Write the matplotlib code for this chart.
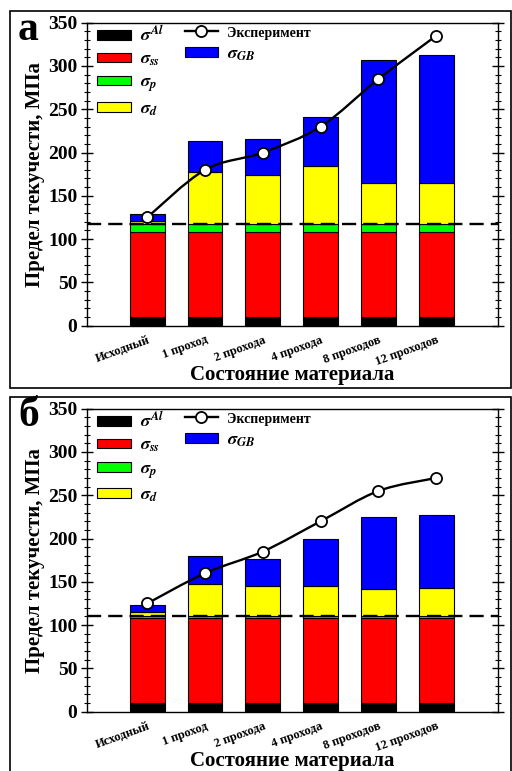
import numpy as np
import matplotlib.pyplot as plt
from matplotlib.patches import Rectangle, Patch
from matplotlib.lines import Line2D
from matplotlib.path import Path
from matplotlib.patches import PathPatch
from matplotlib.ticker import MultipleLocator

plt.rcParams['font.family'] = ['Liberation Serif', 'DejaVu Serif']
plt.rcParams['font.weight'] = 'bold'
plt.rcParams['axes.labelweight'] = 'bold'
plt.rcParams['mathtext.fontset'] = 'stix'

categories = ["Исходный", "1 проход", "2 прохода", "4 прохода", "8 проходов", "12 проходов"]

# panel а: strengthening contributions, MPa
al_a = [10, 10, 10, 10, 10, 10]
ss_a = [98, 98, 98, 98, 98, 98]
p_a = [9, 9, 9, 9, 9, 9]
d_a = [4, 61, 57, 67, 48, 48]
gb_a = [8, 35, 42, 57, 142, 148]
exp_a = [125, 180, 200, 230, 285, 335]
base_a = 117

# panel б
al_b = [10, 10, 10, 10, 10, 10]
ss_b = [98, 98, 98, 98, 98, 98]
p_b = [3, 3, 3, 3, 3, 3]
d_b = [4, 37, 34, 34, 31, 32]
gb_b = [8, 32, 31, 55, 83, 84]
exp_b = [125, 160, 185, 220, 255, 270]
base_b = 111

colors = ['black', '#ff0000', '#00ff00', '#ffff00', '#0000ff']
names = [r'$\sigma^{Al}$', r'$\sigma_{ss}$', r'$\sigma_{p}$', r'$\sigma_{d}$', r'$\sigma_{GB}$']


def smooth_path(x, y):
    # Catmull-Rom segments written as cubic Bezier pieces
    pts = np.column_stack([x, y]).astype(float)
    ext = np.vstack([pts[0], pts, pts[-1]])
    verts = [pts[0]]
    codes = [Path.MOVETO]
    for i in range(1, len(ext) - 2):
        p0, p1, p2, p3 = ext[i - 1], ext[i], ext[i + 1], ext[i + 2]
        verts += [p1 + (p2 - p0) / 6, p2 - (p3 - p1) / 6, p2]
        codes += [Path.CURVE4] * 3
    return Path(verts, codes)


def draw_panel(ax, parts, exp, base, letter):
    x = np.arange(len(categories))
    bottom = np.zeros(len(categories))
    for vals, c in zip(parts, colors):
        ax.bar(x, vals, width=0.6, bottom=bottom, color=c,
               edgecolor='black', linewidth=0.8, zorder=2)
        bottom += np.array(vals)
    ax.axhline(base, color='black', ls=(0, (6, 3)), lw=1.7, zorder=3)
    ax.add_patch(PathPatch(smooth_path(x, exp), fill=False, lw=1.7,
                           edgecolor='black', zorder=4))
    ax.plot(x, exp, 'o', color='black', mfc='white', ms=8, mew=1.3, zorder=5)

    ax.set_xlim(-1.04, 6.07)
    ax.set_ylim(0, 350)
    ax.yaxis.set_major_locator(MultipleLocator(50))
    ax.yaxis.set_minor_locator(MultipleLocator(10))
    ax.tick_params(axis='y', which='major', direction='inout', length=8,
                   width=1, right=True, labelsize=14, pad=3)
    ax.tick_params(axis='y', which='minor', direction='inout', length=4,
                   width=0.8, right=True)
    ax.tick_params(axis='x', length=0, pad=6)
    ax.set_xticks(x)
    ax.set_xticklabels(categories, rotation=20, ha='right',
                       rotation_mode='anchor', fontsize=9)
    for s in ax.spines.values():
        s.set_linewidth(1)

    ax.set_ylabel('Предел текучести, МПа', fontsize=15, labelpad=2)
    ax.set_xlabel('Состояние материала', fontsize=15, labelpad=-2)

    h1 = [Patch(facecolor=c, edgecolor='black', lw=0.8) for c in colors[:4]]
    leg1 = ax.legend(h1, names[:4], loc='upper left', bbox_to_anchor=(0.007, 1.015),
                     frameon=False, fontsize=13, handlelength=1.85, handleheight=0.45,
                     labelspacing=0.32, handletextpad=0.5, borderaxespad=0)
    ax.add_artist(leg1)
    h2 = [Line2D([], [], color='black', lw=1.7, marker='o', mfc='white', ms=8, mew=1.3),
          Patch(facecolor=colors[4], edgecolor='black', lw=0.8)]
    leg2 = ax.legend(h2, ['Эксперимент', names[4]], loc='upper left',
                     bbox_to_anchor=(0.22, 1.015), frameon=False, fontsize=13,
                     handlelength=1.85, handleheight=0.45, labelspacing=0.32,
                     handletextpad=0.5, borderaxespad=0)
    leg2.get_texts()[0].set_fontsize(10)

    ax.figure.text(0.035, ax.get_position().y1 - 17 / 771, letter, fontsize=30,
                   fontweight='bold', va='baseline', ha='left')


fig = plt.figure(figsize=(5.12, 7.71), dpi=100)
ax_a = fig.add_axes([0.170, 0.5776, 0.803, 0.393])
ax_b = fig.add_axes([0.170, 0.0769, 0.803, 0.393])

draw_panel(ax_a, [al_a, ss_a, p_a, d_a, gb_a], exp_a, base_a, 'а')
draw_panel(ax_b, [al_b, ss_b, p_b, d_b, gb_b], exp_b, base_b, 'б')

# outer frames around the two panels
fig.patches.append(Rectangle((10 / 512, 1 - 388 / 771), 501 / 512, 377 / 771,
                             transform=fig.transFigure, fill=False, lw=1.2,
                             edgecolor='black'))
fig.patches.append(Rectangle((10 / 512, -0.01), 501 / 512, 1 - 397 / 771 + 0.01,
                             transform=fig.transFigure, fill=False, lw=1.2,
                             edgecolor='black'))

fig.savefig('out.png', dpi=100)
